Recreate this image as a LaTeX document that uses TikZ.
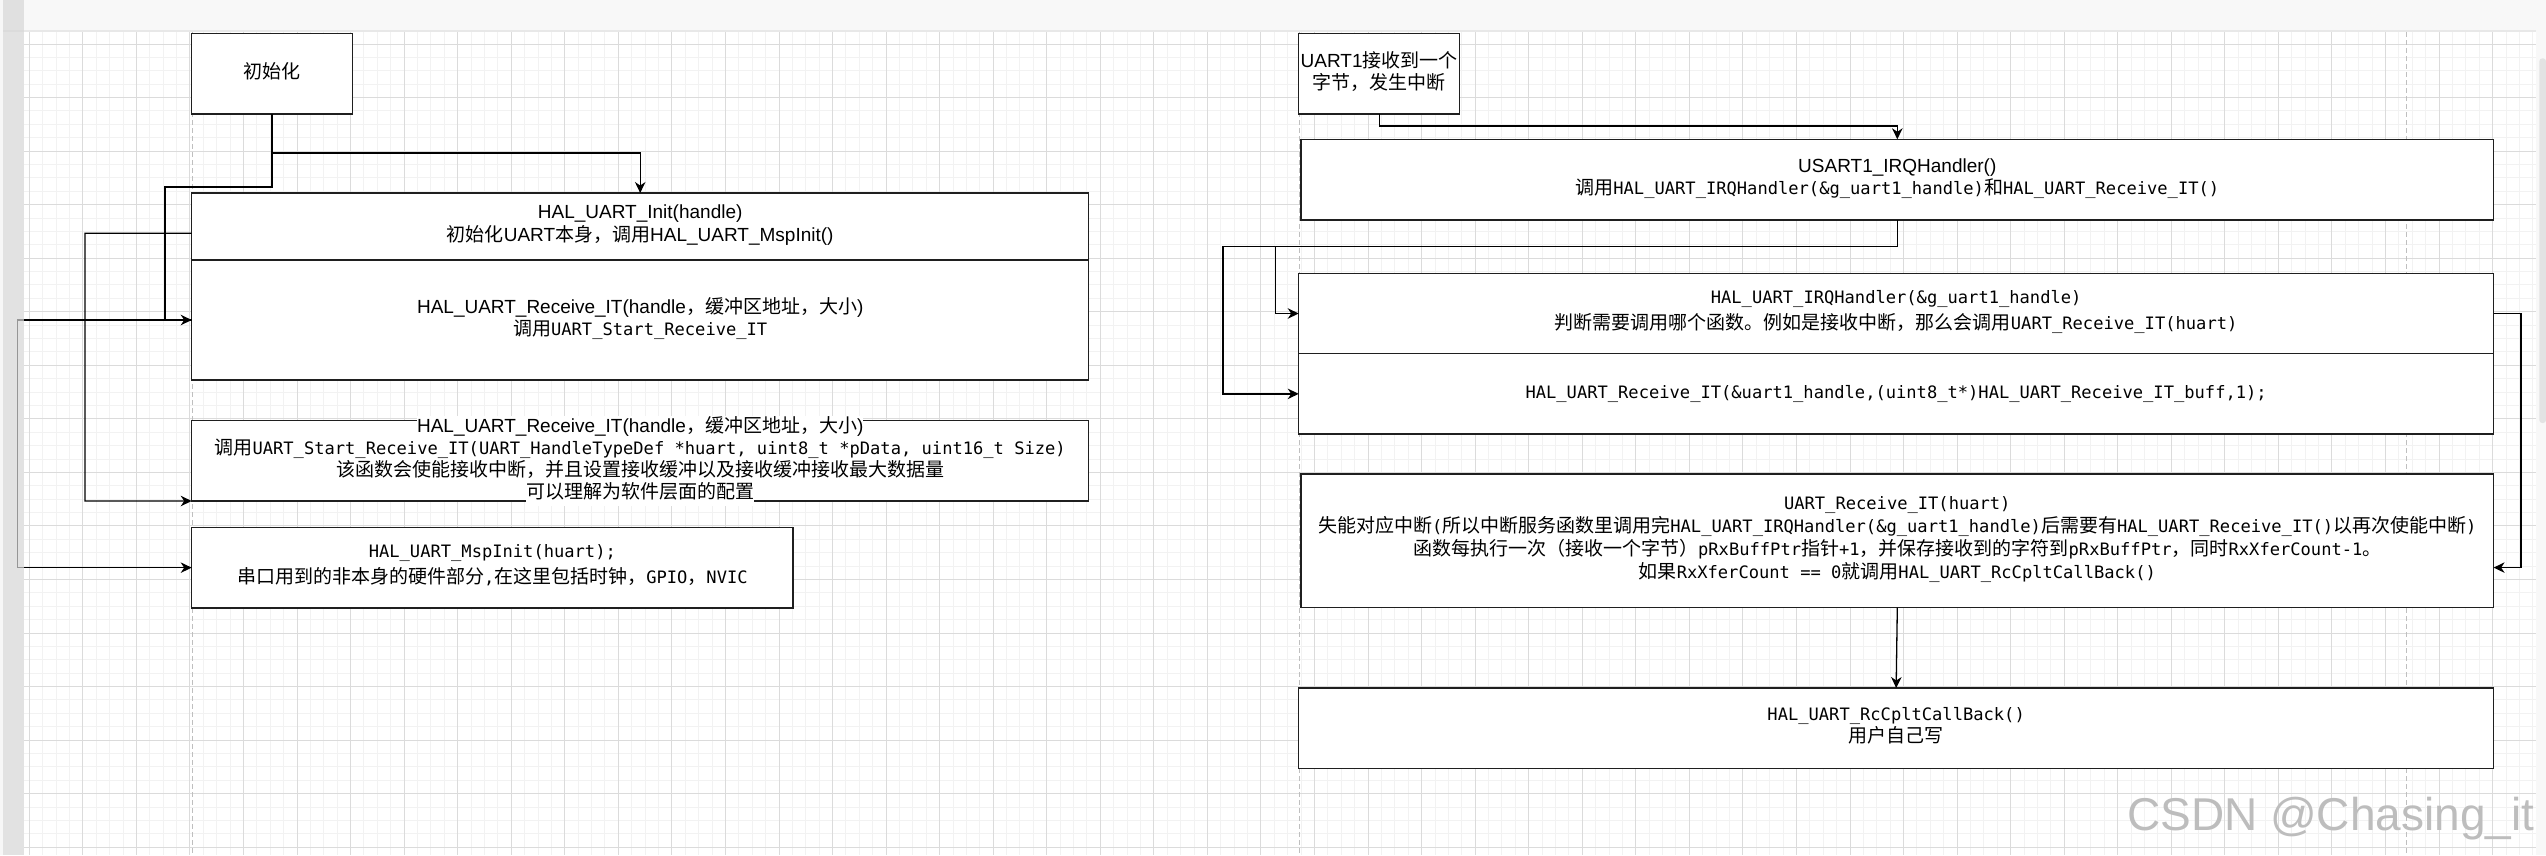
\documentclass[tikz,border=0pt]{standalone}
\usepackage{fontspec}
\setmainfont{Liberation Sans}
\setmonofont{DejaVu Sans Mono}
\newfontfamily\zhfont{Noto Sans CJK SC}
\usetikzlibrary{arrows.meta,positioning,calc}
\definecolor{gridminor}{gray}{0.95}
\definecolor{gridmajor}{gray}{0.86}
\definecolor{pagebreak}{gray}{0.75}
\definecolor{headergray}{gray}{0.973}
\definecolor{headerline}{gray}{0.91}
\definecolor{stripgray}{gray}{0.84}
\definecolor{thumbgray}{gray}{0.89}
\definecolor{markgray}{gray}{0.74}
\definecolor{boxline}{gray}{0.12}
\newcommand{\zh}[1]{{\zhfont\fontsize{19}{22.3}\selectfont #1}}
\newcommand{\sanssize}{\fontsize{19}{22.3}\selectfont}
\newcommand{\monosize}[1]{\ttfamily\fontsize{17.1}{#1}\selectfont}
\newcommand{\onwhite}[1]{{\setlength{\fboxsep}{0pt}\colorbox{white}{\strut #1}}}

\begin{document}
\begin{tikzpicture}[
  x=1pt, y=-1pt,
  box/.style={draw=boxline, line width=1.4, fill=white, anchor=north west, inner sep=2pt, outer sep=0pt,
    align=center, font=\sanssize, execute at begin node=\strut, execute at end node=\strut},
  mono/.style={font=\monosize{#1}},
  arr/.style={-{Stealth[length=11pt, width=10.5pt, inset=3.5pt]}, line width=1.3, color=black},
  minorline/.style={draw=gridminor, line width=1},
  majorline/.style={draw=gridmajor, line width=1},
  pageline/.style={draw=pagebreak, line width=1.2, dash pattern=on 5pt off 3pt},
]
  \useasboundingbox (0,0) rectangle (2546,855);
  \fill[white] (0,0) rectangle (2546,855);

  % canvas grid
  \begin{scope}
    \clip (24,32) rectangle (2536,855);
    \foreach \i in {-1,...,188} \draw[minorline] ({29.3+13.3875*\i},32) -- ++(0,823);
    \foreach \j in {-1,...,61} \draw[minorline] (24,{44+13.3875*\j}) -- ++(2512,0);
    \foreach \i in {0,...,47} \draw[majorline] ({29.3+53.55*\i},32) -- ++(0,823);
    \foreach \j in {0,...,15} \draw[majorline] (24,{44+53.55*\j}) -- ++(2512,0);
  \end{scope}
  \foreach \px in {192.3,1299.6,2406.7} \draw[pageline] (\px,32) -- (\px,855);

  % left column
  \node[box, minimum width=160.6, minimum height=80.3] (init) at (191.7,33.7) {\zh{初始化}};
  \node[box, minimum width=897, minimum height=67] (initsec) at (191.7,193)
    {HAL\_UART\_Init(handle)\\\zh{初始化}UART\zh{本身，调用}HAL\_UART\_MspInit()};
  \node[box, minimum width=897, minimum height=120, below=0pt of initsec] (recvsec)
    {HAL\_UART\_Receive\_IT(handle\zh{，缓冲区地址，大小})\\{\monosize{22.3}\zh{调用}UART\_Start\_Receive\_IT}};
  \node[box, minimum width=897, minimum height=80.3] (startbox) at (191.7,420.7) {};
  \node[font=\sanssize, align=center, inner sep=0pt] (startlbl) at (startbox.center)
    {\onwhite{HAL\_UART\_Receive\_IT(handle\zh{，缓冲区地址，大小})}\\
     {\monosize{22.3}\zh{调用}UART\_Start\_Receive\_IT(UART\_HandleTypeDef *huart, uint8\_t *pData, uint16\_t Size)}\\
     \zh{该函数会使能接收中断，并且设置接收缓冲以及接收缓冲接收最大数据量}\\
     \onwhite{\zh{可以理解为软件层面的配置}}};
  \node[box, mono=25.7, minimum width=601.3, minimum height=80.7] (mspbox) at (191.7,527.3)
    {HAL\_UART\_MspInit(huart);\\\zh{串口用到的非本身的硬件部分},\zh{在这里包括时钟，}GPIO\zh{，}NVIC};

  % right column
  \node[box, minimum width=160.3, minimum height=80.7] (uart1box) at (1298.7,33.3)
    {UART1\zh{接收到一个}\\\zh{字节，发生中断}};
  \node[box, minimum width=1192.6, minimum height=80.7] (irqbox) at (1301,139.3)
    {USART1\_IRQHandler()\\{\monosize{22.3}\zh{调用}HAL\_UART\_IRQHandler(\&g\_uart1\_handle)\zh{和}HAL\_UART\_Receive\_IT()}};
  \node[box, mono=26, minimum width=1194.9, minimum height=80.4] (irqsec) at (1298.7,273.3)
    {HAL\_UART\_IRQHandler(\&g\_uart1\_handle)\\\zh{判断需要调用哪个函数。例如是接收中断，那么会调用}UART\_Receive\_IT(huart)};
  \node[box, mono=22.3, minimum width=1194.9, minimum height=80.3, below=0pt of irqsec] (recvsec2)
    {HAL\_UART\_Receive\_IT(\&uart1\_handle,(uint8\_t*)HAL\_UART\_Receive\_IT\_buff,1);};
  \node[box, mono=23, minimum width=1192.6, minimum height=133.7] (urxbox) at (1301,474)
    {UART\_Receive\_IT(huart)\\
     \zh{失能对应中断}(\zh{所以中断服务函数里调用完}HAL\_UART\_IRQHandler(\&g\_uart1\_handle)\zh{后需要有}HAL\_UART\_Receive\_IT()\zh{以再次使能中断})\\
     \zh{函数每执行一次（接收一个字节）}pRxBuffPtr\zh{指针}+1\zh{，并保存接收到的字符到}pRxBuffPtr\zh{，同时}RxXferCount-1\zh{。}\\
     \zh{如果}RxXferCount == 0\zh{就调用}HAL\_UART\_RcCpltCallBack()};
  \node[box, mono=22.3, minimum width=1194.9, minimum height=80.3] (cbbox) at (1298.7,688)
    {HAL\_UART\_RcCpltCallBack()\\\zh{用户自己写}};

  % connectors, left
  \coordinate (initbend) at (165,187);
  \coordinate (startbend) at (85,233.2);
  \coordinate (mspbend) at (17.3,320);
  \draw[arr] (init.south) -- ++(0,39) -| (initsec.north);
  \draw[arr] (init.south) |- (initbend) |- (recvsec.west);
  \draw[arr] ($(initsec.north west)!0.6!(initsec.south west)$) -- (startbend) |- (startbox.south west);
  \draw[arr] (recvsec.west) -- (mspbend) |- (mspbox.west);

  % connectors, right
  \coordinate (irqbend) at (1275.5,246.7);
  \coordinate (recvbend) at (1223,246.7);
  \coordinate (urxbend) at (2521,313.5);
  \draw[arr] (uart1box.south) -- ++(0,12) -| (irqbox.north);
  \draw[arr] (irqbox.south) |- (irqbend) |- (irqsec.west);
  \draw[arr] (irqbox.south) |- (recvbend) |- (recvsec2.west);
  \draw[arr] (irqsec.east) -- (urxbend) |- ($(urxbox.north east)!0.7!(urxbox.south east)$);
  \draw[arr] (urxbox.south) -- (cbbox.north);

  % editor frame
  \fill[headergray] (0,0) rectangle (2546,30);
  \fill[headerline] (0,30) rectangle (2536,32);
  \fill[headergray] (2536,30) rectangle (2546,855);
  \fill[thumbgray, rounded corners=3] (2539.3,58.3) rectangle (2546,423);
  \fill[stripgray, fill opacity=0.7] (3.3,0) rectangle (24,855);
  \fill[gray!6] (0,0) rectangle (3.3,855);
  \node[anchor=base west, inner sep=0pt, text=markgray, font=\fontsize{46}{50}\selectfont] (mark) at (2127,830) {CSDN @Chasing\_it};
\end{tikzpicture}
\end{document}
